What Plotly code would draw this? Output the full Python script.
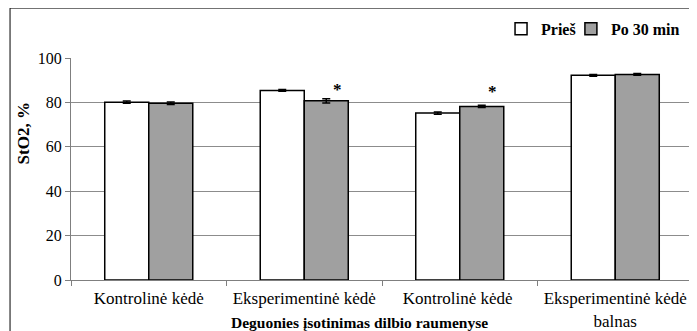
import plotly.graph_objects as go

categories = ["Kontrolinė kėdė", "Eksperimentinė kėdė", "Kontrolinė kėdė ", "Eksperimentinė kėdė<br>balnas"]
before_vals = [80.1, 85.4, 75.2, 92.2]
before_err = [0.5, 0.4, 0.5, 0.4]
after_vals = [79.6, 80.7, 78.2, 92.6]
after_err = [0.6, 1.0, 0.5, 0.4]
significant = [False, True, True, False]
sig_gap_px = [0, 9, 14, 0]
series_names = ["Prieš", "Po 30 min"]
y_ticks = [0, 20, 40, 60, 80, 100]

FONT = "Times New Roman"

fig = go.Figure()
fig.add_trace(go.Bar(
    x=categories, y=before_vals, name=series_names[0], legend="legend",
    marker=dict(color="white", line=dict(color="black", width=1.5)),
    error_y=dict(type="data", array=before_err, color="black", thickness=1.5, width=4),
))
fig.add_trace(go.Bar(
    x=categories, y=after_vals, name=series_names[1], legend="legend2",
    marker=dict(color="#a0a0a0", line=dict(color="black", width=1.5)),
    error_y=dict(type="data", array=after_err, color="black", thickness=1.5, width=4),
))

for cat, v, e, s, g in zip(categories, after_vals, after_err, significant, sig_gap_px):
    if s:
        fig.add_annotation(x=cat, y=v + e, text="<b>*</b>", showarrow=False,
                           xref="x", yref="y", xshift=33, yshift=g,
                           font=dict(family=FONT, size=17, color="black"))

fig.add_annotation(text="<b>Deguonies įsotinimas dilbio raumenyse</b>", xref="paper", yref="paper",
                   x=0.464, y=-0.19, yanchor="middle", showarrow=False,
                   font=dict(family=FONT, size=15.5, color="black"))

fig.add_annotation(text="<b>StO2, %</b>", xref="paper", yref="paper", textangle=-90,
                   x=-0.0756, y=0.66, xanchor="center", yanchor="middle", showarrow=False,
                   font=dict(family=FONT, size=17, color="black"))

# outer chart border
fig.add_shape(type="rect", xref="paper", yref="paper", x0=-0.098, x1=1.2, y0=-0.6, y1=1.225,
              line=dict(color="black", width=1), fillcolor="rgba(0,0,0,0)", layer="below")

legend_common = dict(orientation="h", yanchor="middle", xanchor="right",
                     font=dict(family=FONT, size=16, color="black", weight="bold"),
                     itemwidth=30, bgcolor="rgba(0,0,0,0)")

fig.update_layout(
    width=689, height=323,
    margin=dict(l=63, r=4, t=50, b=51, autoexpand=False),
    paper_bgcolor="white", plot_bgcolor="white",
    barmode="group", bargap=0.434, bargroupgap=0,
    font=dict(family=FONT, size=15, color="black"),
    legend=dict(x=0.82, y=1.131, **legend_common),
    legend2=dict(x=0.987, y=1.131, **legend_common),
    showlegend=True,
    xaxis=dict(showline=True, linecolor="#7f7f7f", linewidth=1, ticks="outside",
               tickson="boundaries", ticklen=5, tickcolor="#7f7f7f", automargin=False,
               ticklabelstandoff=3,
               tickfont=dict(family=FONT, size=17, color="black"), showgrid=False),
    yaxis=dict(range=[0, 100], tickvals=y_ticks, showline=True, linecolor="#7f7f7f",
               linewidth=1, ticks="outside", ticklen=5, tickcolor="#7f7f7f", automargin=False,
               showgrid=True, gridcolor="#8c8c8c", gridwidth=1, zeroline=False,
               tickfont=dict(family=FONT, size=16, color="black")),
)

fig.write_html("out.html")
